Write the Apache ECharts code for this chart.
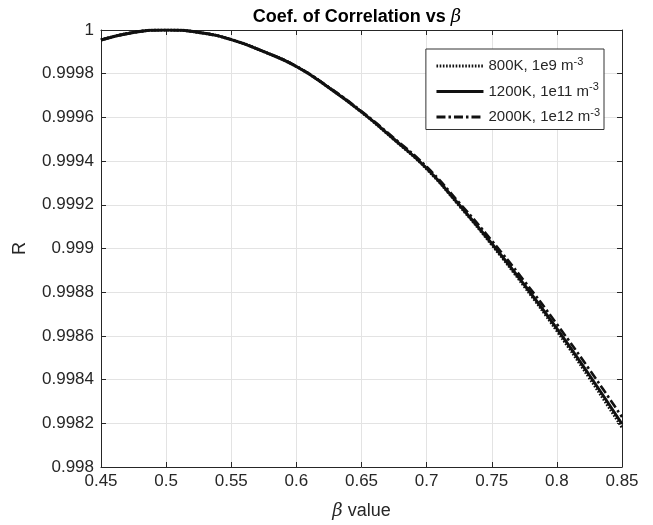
<!DOCTYPE html>
<html><head><meta charset="utf-8">
<script src="https://cdn.jsdelivr.net/npm/echarts@6/dist/echarts.min.js"></script>
<style>html,body{margin:0;padding:0;background:#fff}#c{width:653px;height:525px}</style>
</head><body><div id="c"></div>
<script>
const beta = [0.45,0.475,0.5,0.525,0.55,0.575,0.6,0.625,0.65,0.675,0.7,0.725,0.75,0.775,0.8,0.825,0.85];
const r800  = [0.999954,0.999989,1.000000,0.999989,0.999956,0.999901,0.999833,0.999736,0.999624,0.999498,0.999364,0.999196,0.999017,0.998826,0.998623,0.998407,0.998181];
const r1200 = [0.999954,0.999989,1.000000,0.999989,0.999956,0.999901,0.999833,0.999736,0.999625,0.999500,0.999367,0.999200,0.999023,0.998834,0.998633,0.998420,0.998197];
const r2000 = [0.999954,0.999989,1.000000,0.999989,0.999956,0.999901,0.999834,0.999738,0.999628,0.999505,0.999374,0.999210,0.999036,0.998851,0.998654,0.998446,0.998229];
const seriesNames = ['800K, 1e9 m', '1200K, 1e11 m', '2000K, 1e12 m'];
const xRange = {min: 0.45, max: 0.85, interval: 0.05};
const yRange = {min: 0.998, max: 1.0, interval: 0.0002};

const FONT = "'Liberation Sans', Arial, Helvetica, sans-serif";
const TXT = '#262626';
const GRIDC = '#e3e3e3';
const chart = echarts.init(document.getElementById('c'), null, {renderer: 'canvas'});
const zip = arr => beta.map((b, i) => [b, arr[i]]);
const fmtX = v => String(parseFloat(v.toFixed(2)));
const fmtY = v => String(parseFloat(v.toFixed(4)));

const lineStyles = [
  {color: '#111', width: 3, type: [1.6, 1.6]},
  {color: '#111', width: 3, type: 'solid'},
  {color: '#111', width: 2.6, type: [9, 3, 2.5, 3]}
];
const data = [r800, r1200, r2000];

chart.setOption({
  animation: false,
  backgroundColor: '#fff',
  textStyle: {fontFamily: FONT},
  title: {
    text: 'Coef. of Correlation vs {b|β}',
    left: 352, textAlign: 'center', top: 3,
    textStyle: {fontFamily: FONT, fontSize: 18, fontWeight: 'bold', color: '#000',
      rich: {b: {fontFamily: 'DejaVu Serif, serif', fontStyle: 'italic', fontWeight: 'normal', fontSize: 18, color: '#000'}}}
  },
  grid: {left: 101, right: 31, top: 30, bottom: 58},
  legend: {
    orient: 'vertical', right: 49, top: 49,
    itemWidth: 47, itemHeight: 14, itemGap: 8,
    padding: [7, 4, 5, 9],
    borderColor: '#333', borderWidth: 1, backgroundColor: '#fff',
    data: seriesNames,
    itemStyle: {opacity: 0, borderWidth: 0},
    lineStyle: {width: 3.2},
    formatter: n => n + '{s|-3}',
    textStyle: {fontFamily: FONT, fontSize: 15, color: TXT,
      rich: {s: {fontSize: 11, color: TXT, padding: [0, 0, 9, 0]}}}
  },
  xAxis: [{
    type: 'value', min: xRange.min, max: xRange.max, interval: xRange.interval,
    name: '{b|β} value', nameLocation: 'middle', nameGap: 35,
    nameTextStyle: {fontFamily: FONT, fontSize: 18, color: TXT,
      rich: {b: {fontFamily: 'DejaVu Serif, serif', fontStyle: 'italic', fontSize: 18, color: TXT}}},
    axisLine: {show: true, onZero: false, lineStyle: {color: TXT, width: 1}},
    axisTick: {show: true, inside: true, length: 5, lineStyle: {color: TXT}},
    axisLabel: {fontFamily: FONT, fontSize: 17, color: TXT, margin: 6, formatter: fmtX},
    splitLine: {show: true, lineStyle: {color: GRIDC, width: 1}}
  }, {
    type: 'value', position: 'top', min: xRange.min, max: xRange.max, interval: xRange.interval,
    axisLine: {show: true, onZero: false, lineStyle: {color: TXT, width: 1}},
    axisTick: {show: true, inside: true, length: 5, lineStyle: {color: TXT}},
    axisLabel: {show: false}, splitLine: {show: false}
  }],
  yAxis: [{
    type: 'value', min: yRange.min, max: yRange.max, interval: yRange.interval,
    name: 'R', nameLocation: 'middle', nameGap: 72, nameRotate: 90,
    nameTextStyle: {fontFamily: FONT, fontSize: 18, color: TXT},
    axisLine: {show: true, onZero: false, lineStyle: {color: TXT, width: 1}},
    axisTick: {show: true, inside: true, length: 5, lineStyle: {color: TXT}},
    axisLabel: {fontFamily: FONT, fontSize: 17, color: TXT, margin: 7, formatter: fmtY},
    splitLine: {show: true, lineStyle: {color: GRIDC, width: 1}}
  }, {
    type: 'value', position: 'right', min: yRange.min, max: yRange.max, interval: yRange.interval,
    axisLine: {show: true, onZero: false, lineStyle: {color: TXT, width: 1}},
    axisTick: {show: true, inside: true, length: 5, lineStyle: {color: TXT}},
    axisLabel: {show: false}, splitLine: {show: false}
  }],
  series: seriesNames.map((n, i) => ({
    name: n, type: 'line', smooth: true, showSymbol: false, symbol: 'none',
    data: zip(data[i]), lineStyle: lineStyles[i], itemStyle: {color: '#111'},
    z: 3 - i
  }))
});
</script></body></html>
